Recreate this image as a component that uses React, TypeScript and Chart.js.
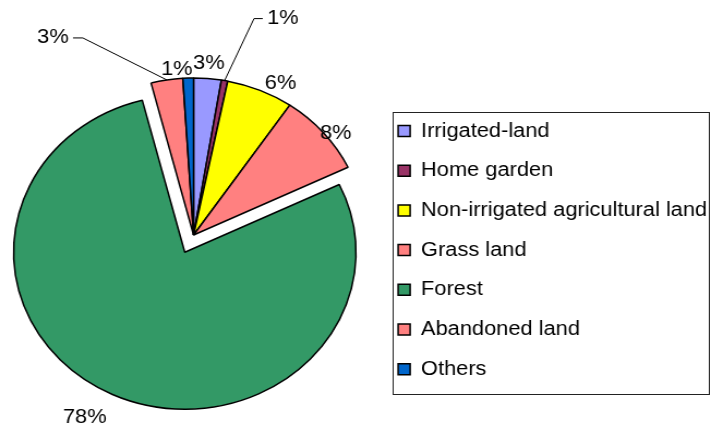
import React, { useEffect, useRef } from "react";
import { Chart, registerables } from "chart.js";

Chart.register(...registerables);

// ---- data ----
const categories = [
  "Irrigated-land",
  "Home garden",
  "Non-irrigated agricultural land",
  "Grass land",
  "Forest",
  "Abandoned land",
  "Others",
];
const shares = [2.6, 0.6, 6.3, 8.4, 78.1, 3.0, 1.0];
const percentLabels = ["3%", "1%", "6%", "8%", "78%", "3%", "1%"];
const sliceColors = ["#9999FF", "#993366", "#FFFF00", "#FF8080", "#339966", "#FF8080", "#0066CC"];
const explodedIndex = 4;

// ---- layout / style ----
const CANVAS_W = 652;
const CANVAS_H = 430;
const STRETCH = 711 / CANVAS_W;
const FONT = "'Liberation Sans', Arial, sans-serif";
const PIE_RADIUS = 157;
const EXPLODE = 19;

type LabelCfg =
  | { gap: number; dx: number; dy: number }
  | { leader: { elbowDx: number; elbowDy: number; tail: number } };

const labelLayout: LabelCfg[] = [
  { gap: 15, dx: 0, dy: 0 },
  { leader: { elbowDx: 27, elbowDy: -62, tail: 8 } },
  { gap: 15, dx: 13, dy: 7 },
  { gap: 15, dx: 0, dy: 11 },
  { gap: 15, dx: -19, dy: 9 },
  { leader: { elbowDx: -77, elbowDy: -42, tail: -9 } },
  { gap: 15, dx: -10, dy: 6 },
];

const explodePlugin = {
  id: "explodeSlice",
  afterDatasetsUpdate(chart: any) {
    const meta = chart.getDatasetMeta(0);
    const arc = meta.data[explodedIndex];
    if (!arc) return;
    const mid = (arc.startAngle + arc.endAngle) / 2;
    arc.x += Math.cos(mid) * EXPLODE;
    arc.y += Math.sin(mid) * EXPLODE;
  },
};

const labelPlugin = {
  id: "sliceLabels",
  afterDatasetsDraw(chart: any) {
    const ctx = chart.ctx as CanvasRenderingContext2D;
    const meta = chart.getDatasetMeta(0);
    ctx.save();
    ctx.font = `20px ${FONT}`;
    ctx.fillStyle = "#000";
    ctx.strokeStyle = "#000";
    ctx.lineWidth = 1;
    ctx.textBaseline = "middle";
    meta.data.forEach((arc: any, i: number) => {
      const { x, y, startAngle, endAngle, outerRadius } = arc;
      const mid = (startAngle + endAngle) / 2;
      const cfg = labelLayout[i] as any;
      if (cfg.leader) {
        const ex = x + Math.cos(mid) * outerRadius;
        const ey = y + Math.sin(mid) * outerRadius;
        const bx = ex + cfg.leader.elbowDx;
        const by = ey + cfg.leader.elbowDy;
        const tx = bx + cfg.leader.tail;
        ctx.beginPath();
        ctx.moveTo(ex, ey);
        ctx.lineTo(bx, by);
        ctx.lineTo(tx, by);
        ctx.stroke();
        const right = cfg.leader.tail > 0;
        ctx.textAlign = right ? "left" : "right";
        ctx.fillText(percentLabels[i], tx + (right ? 4 : -4), by);
      } else {
        const d = outerRadius + cfg.gap;
        ctx.textAlign = "center";
        ctx.fillText(
          percentLabels[i],
          x + Math.cos(mid) * d + cfg.dx,
          y + Math.sin(mid) * d + cfg.dy
        );
      }
    });
    ctx.restore();
  },
};

const legendFramePlugin = {
  id: "legendFrame",
  afterDraw(chart: any) {
    const lg = chart.legend;
    if (!lg || !lg.legendHitBoxes || !lg.legendHitBoxes.length) return;
    const hb = lg.legendHitBoxes;
    const first = hb[0];
    const last = hb[hb.length - 1];
    const ctx = chart.ctx as CanvasRenderingContext2D;
    const left = Math.round(first.left - 5) + 0.5;
    const top = Math.round(first.top - 9) + 0.5;
    const right = chart.width - 1.5;
    const bottom = Math.round(last.top + last.height + 15) + 0.5;
    ctx.save();
    ctx.strokeStyle = "#222";
    ctx.lineWidth = 1;
    ctx.strokeRect(left, top, right - left, bottom - top);
    ctx.restore();
  },
};

export default function App() {
  const ref = useRef<HTMLCanvasElement>(null);

  useEffect(() => {
    const chart = new Chart(ref.current as HTMLCanvasElement, {
      type: "pie",
      data: {
        labels: categories,
        datasets: [
          {
            data: shares,
            backgroundColor: sliceColors,
            borderColor: "#000",
            borderWidth: 1.5,
            radius: PIE_RADIUS,
          } as any,
        ],
      },
      options: {
        responsive: true,
        maintainAspectRatio: false,
        animation: false,
        layout: { padding: { left: 9.6, right: 3.6, top: 40, bottom: 0 } },
        plugins: {
          tooltip: { enabled: false },
          legend: {
            position: "right",
            maxWidth: 303,
            title: {
              display: true,
              text: " ",
              font: { size: 12, family: FONT },
              padding: { top: 10, bottom: 5.8 },
            },
            labels: {
              boxWidth: 11,
              boxHeight: 11,
              padding: 19.7,
              color: "#000",
              font: { size: 20, family: FONT },
            },
          },
        },
      } as any,
      plugins: [explodePlugin, labelPlugin, legendFramePlugin],
    });
    return () => chart.destroy();
  }, []);

  return (
    <div
      style={{
        position: "absolute",
        left: 0,
        top: 0,
        width: 711,
        height: 430,
        overflow: "hidden",
        background: "#fff",
      }}
    >
      <div
        style={{
          width: CANVAS_W,
          height: CANVAS_H,
          transform: `scaleX(${STRETCH})`,
          transformOrigin: "0 0",
        }}
      >
        <canvas ref={ref} />
      </div>
    </div>
  );
}
